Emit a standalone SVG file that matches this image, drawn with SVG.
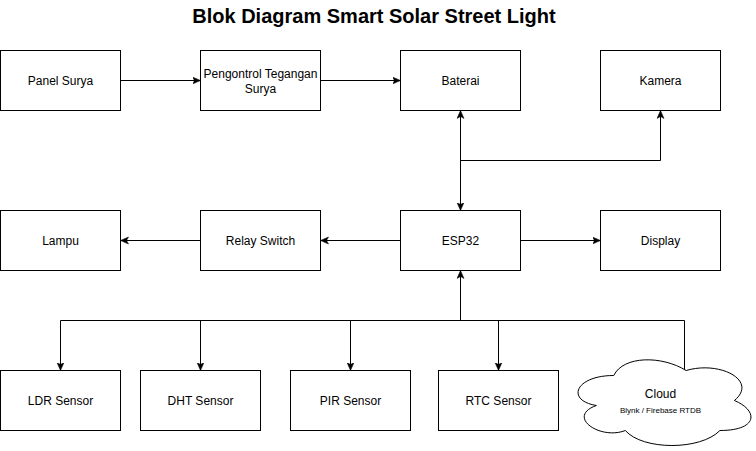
<svg xmlns="http://www.w3.org/2000/svg" width="756" height="451" viewBox="0 0 756 451">
<style>
.box{fill:#fff;stroke:#000;stroke-width:1}
.lbl{font-family:"Liberation Sans",Arial,sans-serif;font-size:12px;fill:#000;text-anchor:middle}
.edge{fill:none;stroke:#000;stroke-width:1}
.title{font-family:"Liberation Sans",Arial,sans-serif;font-size:20px;font-weight:bold;fill:#000;text-anchor:middle}
</style>
<defs>
<marker id="arr" markerWidth="10" markerHeight="10" refX="8" refY="4" orient="auto-start-reverse" markerUnits="userSpaceOnUse">
<path d="M0,0.5 L8,4 L0,7.5 L2,4 Z" fill="#000" stroke="#000" stroke-width="0.5"/>
</marker>
</defs>
<rect width="756" height="451" fill="#fff"/>
<text class="title" x="374" y="23">Blok Diagram Smart Solar Street Light</text>
<g transform="translate(0.5,0.5)">
<g id="connectors">
<path class="edge" d="M120,80 H200" marker-end="url(#arr)"/>
<path class="edge" d="M320,80 H400" marker-end="url(#arr)"/>
<path class="edge" d="M460,110 V210" marker-start="url(#arr)" marker-end="url(#arr)"/>
<path class="edge" d="M460,160 H660 V110" marker-end="url(#arr)"/>
<path class="edge" d="M400,240 H320" marker-end="url(#arr)"/>
<path class="edge" d="M200,240 H120" marker-end="url(#arr)"/>
<path class="edge" d="M520,240 H600" marker-end="url(#arr)"/>
<path class="edge" d="M460,320 V270" marker-end="url(#arr)"/>
<path class="edge" d="M60,320 H684 V369"/>
<path class="edge" d="M60,320 V370" marker-end="url(#arr)"/>
<path class="edge" d="M200,320 V370" marker-end="url(#arr)"/>
<path class="edge" d="M350,320 V370" marker-end="url(#arr)"/>
<path class="edge" d="M498,320 V370" marker-end="url(#arr)"/>
</g>
<g id="panel-surya"><rect class="box" x="0" y="50" width="120" height="60"/><text class="lbl" x="60" y="84">Panel Surya</text></g>
<g id="pengontrol"><rect class="box" x="200" y="50" width="120" height="60"/><text class="lbl" x="260" y="77">Pengontrol Tegangan</text><text class="lbl" x="260" y="92">Surya</text></g>
<g id="baterai"><rect class="box" x="400" y="50" width="120" height="60"/><text class="lbl" x="460" y="84">Baterai</text></g>
<g id="kamera"><rect class="box" x="600" y="50" width="120" height="60"/><text class="lbl" x="660" y="84">Kamera</text></g>
<g id="lampu"><rect class="box" x="0" y="210" width="120" height="60"/><text class="lbl" x="60" y="244">Lampu</text></g>
<g id="relay"><rect class="box" x="200" y="210" width="120" height="60"/><text class="lbl" x="260" y="244">Relay Switch</text></g>
<g id="esp32"><rect class="box" x="400" y="210" width="120" height="60"/><text class="lbl" x="460" y="244">ESP32</text></g>
<g id="display"><rect class="box" x="600" y="210" width="120" height="60"/><text class="lbl" x="660" y="244">Display</text></g>
<g id="ldr"><rect class="box" x="0" y="370" width="120" height="60"/><text class="lbl" x="60" y="404">LDR Sensor</text></g>
<g id="dht"><rect class="box" x="140" y="370" width="120" height="60"/><text class="lbl" x="200" y="404">DHT Sensor</text></g>
<g id="pir"><rect class="box" x="290" y="370" width="120" height="60"/><text class="lbl" x="350" y="404">PIR Sensor</text></g>
<g id="rtc"><rect class="box" x="438" y="370" width="120" height="60"/><text class="lbl" x="498" y="404">RTC Sensor</text></g>
<g id="cloud">
<path class="box" transform="translate(565,350)" d="M48.25,25 C9.65,25 0,50 30.88,55 C0,66 34.74,90 59.83,80 C77.2,100 135.1,100 154.4,80 C193,80 193,60 168.9,50 C193,30 154.4,10 120.6,20 C96.5,5 57.9,5 48.25,25 Z"/>
<text class="lbl" x="660" y="397">Cloud</text>
<text class="lbl" x="660" y="412" style="font-size:8px">Blynk / Firebase RTDB</text>
</g>
</g>
</svg>
